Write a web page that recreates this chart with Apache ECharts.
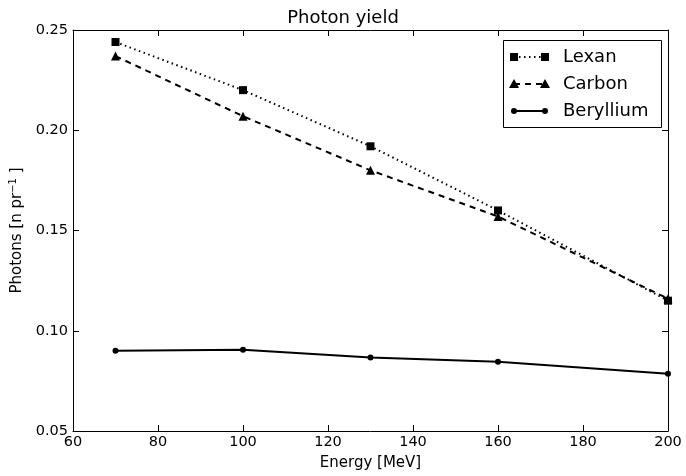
<!DOCTYPE html>
<html><head><meta charset="utf-8">
<script src="https://cdn.jsdelivr.net/npm/echarts@6/dist/echarts.min.js"></script>
<style>html,body{margin:0;padding:0;background:#fff}#c{width:686px;height:476px}</style>
</head><body><div id="c"></div>
<script>
const energies = [70, 100, 130, 160, 200];
const lexan = [0.244, 0.220, 0.192, 0.160, 0.115];
const carbon = [0.237, 0.207, 0.180, 0.157, 0.116];
const beryllium = [0.090, 0.0905, 0.0867, 0.0845, 0.0785];
const seriesNames = ['Lexan', 'Carbon', 'Beryllium'];
const xTicks = [60, 80, 100, 120, 140, 160, 180, 200];
const yTicks = [0.05, 0.10, 0.15, 0.20, 0.25];

const F = 'DejaVu Sans';
const chart = echarts.init(document.getElementById('c'), null, {renderer: 'canvas'});
const pair = (ys) => energies.map((x, i) => [x, ys[i]]);
const axBase = {
  axisLine: {show: true, lineStyle: {color: '#000', width: 1}},
  axisTick: {show: true, inside: true, length: 6, lineStyle: {color: '#000'}},
  splitLine: {show: false}
};
const G = {left: 72, right: 18, top: 30, bottom: 43};
const lx = 511, rowsY = [57, 84, 111];
const legendGraphics = [{
  type: 'rect', shape: {x: 503.5, y: 40.5, width: 158, height: 87},
  style: {fill: '#fff', stroke: '#000', lineWidth: 1}, z: 100
}];
const styles = [
  {dash: [1.5, 3.5], sym: 'rect'},
  {dash: [6, 5], sym: 'tri'},
  {dash: null, sym: 'circ'}
];
seriesNames.forEach((n, i) => {
  const y = rowsY[i];
  legendGraphics.push({type: 'line', shape: {x1: lx + 3, y1: y, x2: lx + 34, y2: y},
    style: {stroke: '#000', lineWidth: 2, lineDash: styles[i].dash}, z: 101});
  [lx + 3, lx + 34].forEach(cx => {
    let g;
    if (styles[i].sym === 'rect') g = {type: 'rect', shape: {x: cx - 4, y: y - 4, width: 8, height: 8}};
    else if (styles[i].sym === 'tri') g = {type: 'polygon', shape: {points: [[cx, y - 5], [cx + 5, y + 4], [cx - 5, y + 4]]}};
    else g = {type: 'circle', shape: {cx: cx, cy: y, r: 3}};
    g.style = {fill: '#000'}; g.z = 102;
    legendGraphics.push(g);
  });
  legendGraphics.push({type: 'text', x: lx + 52, y: y, z: 102,
    style: {text: n, fill: '#000', font: '18px "DejaVu Sans"', textVerticalAlign: 'middle', textBaseline: 'middle'}});
});

chart.setOption({
  animation: false,
  backgroundColor: '#fff',
  title: {text: 'Photon yield', left: 'center', top: 4,
    textStyle: {fontFamily: F, fontSize: 18, fontWeight: 'normal', color: '#000'}},
  grid: G,
  xAxis: [
    Object.assign({type: 'value', min: xTicks[0], max: xTicks[xTicks.length - 1], interval: 20,
      name: 'Energy [MeV]', nameLocation: 'middle', nameGap: 25,
      nameTextStyle: {fontFamily: F, fontSize: 15, color: '#000'},
      axisLabel: {fontFamily: F, fontSize: 14.5, color: '#000', margin: 4}}, axBase),
    Object.assign({type: 'value', position: 'top', min: 60, max: 200, interval: 20,
      axisLabel: {show: false}}, axBase)
  ],
  yAxis: [
    Object.assign({type: 'value', min: yTicks[0], max: yTicks[yTicks.length - 1], interval: 0.05,
      name: '{a|Photons [n pr}{s|−1}{a| ]}', nameLocation: 'middle', nameGap: 47, nameRotate: 90,
      nameTextStyle: {fontFamily: F, fontSize: 15, color: '#000',
        rich: {a: {fontFamily: F, fontSize: 15, color: '#000'},
               s: {fontFamily: F, fontSize: 10, color: '#000', verticalAlign: 'top', padding: [0, 0, 8, 0]}}},
      axisLabel: {fontFamily: F, fontSize: 14.5, color: '#000', margin: 5,
        formatter: v => v.toFixed(2)}}, axBase),
    Object.assign({type: 'value', position: 'right', min: 0.05, max: 0.25, interval: 0.05,
      axisLabel: {show: false}}, axBase)
  ],
  series: [
    {name: seriesNames[0], type: 'line', data: pair(lexan), symbol: 'rect', symbolSize: 8,
      itemStyle: {color: '#000'}, lineStyle: {color: '#000', width: 2, type: [1.5, 3.5]}, z: 3},
    {name: seriesNames[1], type: 'line', data: pair(carbon), symbol: 'triangle', symbolSize: 9,
      itemStyle: {color: '#000'}, lineStyle: {color: '#000', width: 2, type: [6, 5]}, z: 3},
    {name: seriesNames[2], type: 'line', data: pair(beryllium), symbol: 'circle', symbolSize: 6,
      itemStyle: {color: '#000'}, lineStyle: {color: '#000', width: 2}, z: 3}
  ],
  graphic: legendGraphics
});
</script></body></html>
